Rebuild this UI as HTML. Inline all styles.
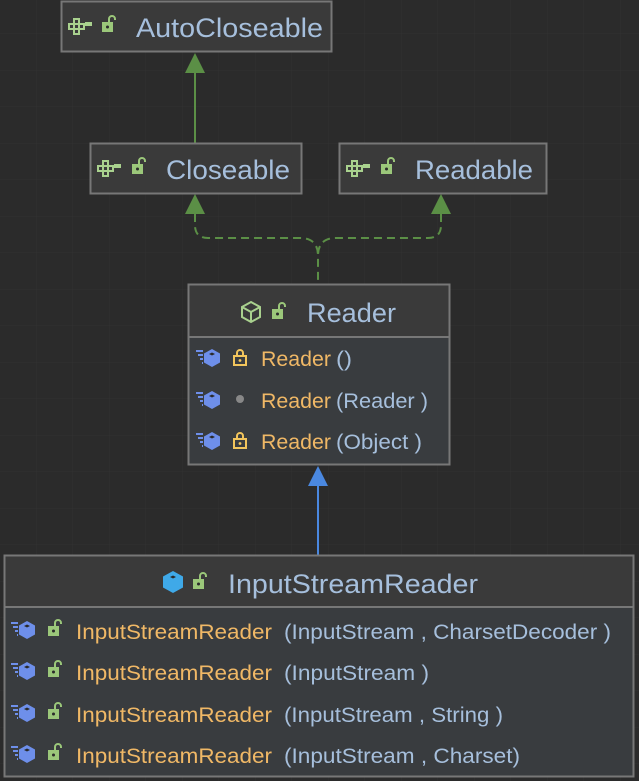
<!DOCTYPE html>
<html><head><meta charset="utf-8"><style>
html,body{margin:0;padding:0;background:#2b2b2b;}
body{width:639px;height:781px;overflow:hidden;position:relative;font-family:"Liberation Sans","DejaVu Sans",sans-serif;}
</style></head><body>
<svg width="639" height="781" xmlns="http://www.w3.org/2000/svg" style="position:absolute;left:0;top:0">
<defs>
<pattern id="g" x="0" y="-2.5" width="36.5" height="36.5" patternUnits="userSpaceOnUse">
<path d="M36.5 0V36.5M0 36.5H36.5" stroke="#323232" stroke-width="1" fill="none"/>
</pattern>
<g id="iface">
<path d="M6 1h5v5h5v5h-5v5h-5v-5h-5v-5h5z M6 6h5v5h-5z" fill="none" stroke="#a9d18e" stroke-width="2"/>
<rect x="17" y="4" width="7" height="4" fill="#a9d18e"/>
</g>
<g id="lockopen">
<rect x="0" y="6" width="11" height="10" fill="#9bc77a"/>
<path d="M7 6V3a3 3 0 0 1 6 0v1" fill="none" stroke="#9bc77a" stroke-width="2"/>
<circle cx="5.5" cy="11" r="1.5" fill="#2b2b2b"/>
</g>
<g id="lockclosed">
<rect x="0" y="6" width="12" height="9" fill="none" stroke="#f2c55c" stroke-width="2"/>
<path d="M3 6V3a3 3 0 0 1 6 0V6" fill="none" stroke="#f2c55c" stroke-width="2"/>
<circle cx="6" cy="10.5" r="1.4" fill="#f2c55c"/>
</g>
<g id="meth">
<path d="M0 2h7M2 6h5M4 10h3M6 14h1" stroke="#6e8fea" stroke-width="2"/>
<path d="M16 0l8 4.5v9l-8 4.5l-8-4.5v-9z" fill="#6e8fea"/>
<path d="M13 5l3 -1.5l3 1.5l-3 1.5z" fill="#2b2b2b"/>
</g>
</defs>
<rect width="639" height="781" fill="url(#g)"/>

<path d="M195 214V225q0 13 13 13H300q18 0 18 18V284" fill="none" stroke="#5b8f46" stroke-width="2" stroke-dasharray="8,5"/>
<path d="M441 214V225q0 13 -13 13H336q-18 0 -18 18" fill="none" stroke="#5b8f46" stroke-width="2" stroke-dasharray="8,5"/>
<path d="M185 214L195 194L205 214z" fill="#5b8f46"/>
<path d="M431 214L441 194L451 214z" fill="#5b8f46"/>
<path d="M195 143V72" stroke="#5b8f46" stroke-width="2"/>
<path d="M185 73L195 53L205 73z" fill="#5b8f46"/>
<path d="M318 555V485" stroke="#4a88e0" stroke-width="2"/>
<path d="M308 486L318 466L328 486z" fill="#4a88e0"/>

<g font-size="27" fill="#a6bfdc">
<rect x="61.5" y="1.5" width="270" height="50" fill="#3a3a3a" stroke="#777" stroke-width="2"/>
<use href="#iface" x="68" y="18"/><use href="#lockopen" x="102" y="16"/>
<text x="136" y="37" textLength="187" lengthAdjust="spacingAndGlyphs">AutoCloseable</text>

<rect x="90.5" y="143.5" width="211" height="50" fill="#3a3a3a" stroke="#777" stroke-width="2"/>
<use href="#iface" x="97" y="160"/><use href="#lockopen" x="132" y="158"/>
<text x="166" y="179" textLength="124" lengthAdjust="spacingAndGlyphs">Closeable</text>

<rect x="339.5" y="143.5" width="207" height="50" fill="#3a3a3a" stroke="#777" stroke-width="2"/>
<use href="#iface" x="346" y="160"/><use href="#lockopen" x="381" y="158"/>
<text x="415" y="179" textLength="118" lengthAdjust="spacingAndGlyphs">Readable</text>
</g>

<rect x="188.5" y="284.5" width="261" height="180" fill="#393c3f" stroke="#777" stroke-width="2"/>
<rect x="189.5" y="285.5" width="259" height="51" fill="#3a3a3a"/>
<line x1="189" y1="337" x2="449" y2="337" stroke="#777" stroke-width="2"/>
<path d="M251 302l9 5v10l-9 5l-9-5v-10z M242 307l9 5l9-5 M251 312v10" fill="none" stroke="#a9d18e" stroke-width="2"/>
<use href="#lockopen" x="272" y="303"/>
<text x="307" y="322" font-size="27" fill="#a6bfdc" textLength="89" lengthAdjust="spacingAndGlyphs">Reader</text>
<g font-size="21">
<use href="#meth" x="196" y="349"/><use href="#lockclosed" x="234" y="350"/>
<text x="261" y="366" fill="#f0b866" textLength="70" lengthAdjust="spacingAndGlyphs">Reader</text>
<text x="336" y="366" fill="#a6bfdc" textLength="16" lengthAdjust="spacingAndGlyphs">()</text>
<use href="#meth" x="196" y="391"/><circle cx="240" cy="399" r="4" fill="#888"/>
<text x="261" y="408" fill="#f0b866" textLength="70" lengthAdjust="spacingAndGlyphs">Reader</text>
<text x="336" y="408" fill="#a6bfdc" textLength="92" lengthAdjust="spacingAndGlyphs">(Reader )</text>
<use href="#meth" x="196" y="432"/><use href="#lockclosed" x="234" y="433"/>
<text x="261" y="449" fill="#f0b866" textLength="70" lengthAdjust="spacingAndGlyphs">Reader</text>
<text x="336" y="449" fill="#a6bfdc" textLength="86" lengthAdjust="spacingAndGlyphs">(Object )</text>
</g>

<rect x="4.5" y="555.5" width="629" height="221" fill="#393c3f" stroke="#777" stroke-width="2"/>
<rect x="5.5" y="556.5" width="627" height="51" fill="#3a3a3a"/>
<line x1="5" y1="607" x2="633" y2="607" stroke="#777" stroke-width="2"/>
<path d="M173 571l10 5.5v11l-10 5.5l-10-5.5v-11z" fill="#3fa9e8"/>
<path d="M170 577l3 -1.5l3 1.5l-3 1.5z" fill="#2b2b2b"/>
<use href="#lockopen" x="193" y="573"/>
<text x="228" y="593" font-size="27" fill="#a6bfdc" textLength="250" lengthAdjust="spacingAndGlyphs">InputStreamReader</text>
<g font-size="21">
<use href="#meth" x="11" y="621"/><use href="#lockopen" x="48" y="620"/>
<text x="76" y="639" fill="#f0b866" textLength="196" lengthAdjust="spacingAndGlyphs">InputStreamReader</text>
<text x="284" y="639" fill="#a6bfdc" textLength="327" lengthAdjust="spacingAndGlyphs">(InputStream , CharsetDecoder )</text>
<use href="#meth" x="11" y="662"/><use href="#lockopen" x="48" y="661"/>
<text x="76" y="680" fill="#f0b866" textLength="196" lengthAdjust="spacingAndGlyphs">InputStreamReader</text>
<text x="284" y="680" fill="#a6bfdc" textLength="145" lengthAdjust="spacingAndGlyphs">(InputStream )</text>
<use href="#meth" x="11" y="704"/><use href="#lockopen" x="48" y="703"/>
<text x="76" y="722" fill="#f0b866" textLength="196" lengthAdjust="spacingAndGlyphs">InputStreamReader</text>
<text x="284" y="722" fill="#a6bfdc" textLength="219" lengthAdjust="spacingAndGlyphs">(InputStream , String )</text>
<use href="#meth" x="11" y="745"/><use href="#lockopen" x="48" y="744"/>
<text x="76" y="763" fill="#f0b866" textLength="196" lengthAdjust="spacingAndGlyphs">InputStreamReader</text>
<text x="284" y="763" fill="#a6bfdc" textLength="236" lengthAdjust="spacingAndGlyphs">(InputStream , Charset)</text>
</g>
</svg>
</body></html>
